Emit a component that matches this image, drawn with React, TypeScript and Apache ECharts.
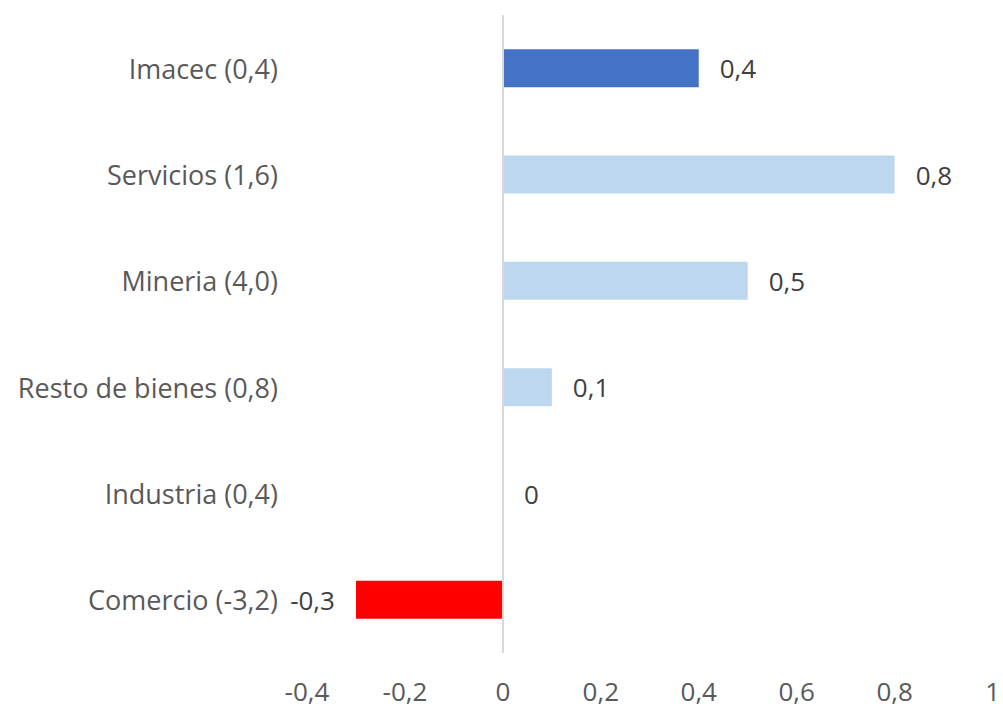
import React, { useEffect, useRef } from "react";
import * as echarts from "echarts";

const categories = [
  "Imacec (0,4)",
  "Servicios (1,6)",
  "Mineria (4,0)",
  "Resto de bienes (0,8)",
  "Industria (0,4)",
  "Comercio (-3,2)",
];
const values = [0.4, 0.8, 0.5, 0.1, 0, -0.3];
const barColors = ["#4472C4", "#BDD7EE", "#BDD7EE", "#BDD7EE", "#BDD7EE", "#FF0000"];
const xTicks = { min: -0.4, max: 1, interval: 0.2 };

const fmt = (v: number) => {
  const r = Math.round(v * 10) / 10;
  return String(r).replace(".", ",");
};

export default function App() {
  const ref = useRef<HTMLDivElement>(null);
  useEffect(() => {
    if (!ref.current) return;
    const chart = echarts.init(ref.current, null, { renderer: "svg" });
    const font = "'Open Sans', sans-serif";
    chart.setOption({
      animation: false,
      grid: { left: 299, right: 10, top: 7, bottom: 58, containLabel: false },
      xAxis: {
        type: "value",
        min: xTicks.min,
        max: xTicks.max,
        interval: xTicks.interval,
        axisLine: { show: false },
        axisTick: { show: false },
        splitLine: { show: false },
        axisLabel: {
          formatter: (v: number) => fmt(v),
          fontFamily: font,
          fontSize: 26,
          color: "#595959",
          margin: 25,
        },
      },
      yAxis: {
        type: "category",
        inverse: true,
        data: categories,
        axisLine: { show: false },
        axisTick: { show: false },
        axisLabel: {
          fontFamily: font,
          fontSize: 27,
          color: "#595959",
          margin: 29,
        },
      },
      series: [
        {
          type: "bar",
          barWidth: 38,
          data: values.map((v, i) => ({
            value: v,
            itemStyle: { color: barColors[i] },
            label: { position: v < 0 ? "left" : "right" },
          })),
          label: {
            show: true,
            distance: 21,
            fontFamily: font,
            fontSize: 26,
            color: "#404040",
            formatter: (p: any) => fmt(p.value),
          },
          markLine: {
            silent: true,
            symbol: "none",
            label: { show: false },
            lineStyle: { color: "#D9D9D9", width: 2, type: "solid" },
            data: [{ xAxis: 0 }],
          },
        },
      ],
    });
    return () => chart.dispose();
  }, []);
  return <div ref={ref} style={{ width: 995, height: 703 }} />;
}
